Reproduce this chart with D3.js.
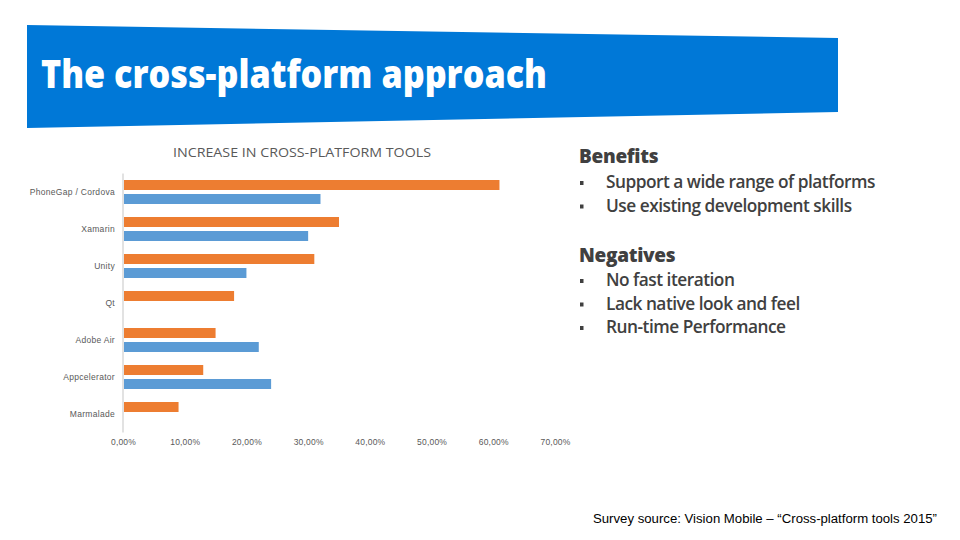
<!DOCTYPE html>
<html>
<head>
<meta charset="utf-8">
<script src="https://cdn.jsdelivr.net/npm/d3@7"></script>
<style>
  html, body { margin: 0; padding: 0; background: #fff; }
  svg { display: block; }
</style>
</head>
<body>
<svg id="chart" width="960" height="540"></svg>
<script>
// ---- Data ----
const categories = ["PhoneGap / Cordova", "Xamarin", "Unity", "Qt", "Adobe Air", "Appcelerator", "Marmalade"];
const seriesOrange = [61, 35, 31, 18, 15, 13, 9];        // upper bar of each pair
const seriesBlue   = [32, 30, 20, null, 22, 24, null];   // lower bar of each pair
const tickValues   = [0, 10, 20, 30, 40, 50, 60, 70];
const chartTitle   = "INCREASE IN CROSS-PLATFORM TOOLS";
const slideTitle   = "The cross-platform approach";
const benefits     = ["Support a wide range of platforms", "Use existing development skills"];
const negatives    = ["No fast iteration", "Lack native look and feel", "Run-time Performance"];
const sourceText   = "Survey source: Vision Mobile \u2013 \u201cCross-platform tools 2015\u201d";

const svg = d3.select("#chart");

// ---- Title banner ----
svg.append("path")
  .attr("d", "M27,25 L838,38 L838,112 L27,128 Z")
  .attr("fill", "#0078D7");
svg.append("text")
  .attr("x", 41).attr("y", 88)
  .attr("fill", "#fff")
  .attr("font-family", "'Open Sans', 'Noto Sans', sans-serif")
  .attr("font-weight", 800)
  .attr("font-size", 39)
  .attr("textLength", 506).attr("lengthAdjust", "spacingAndGlyphs")
  .text(slideTitle);

// ---- Chart ----
const x = d3.scaleLinear().domain([0, 70]).range([123, 555]);
const y = d3.scaleBand().domain(categories).range([173.5, 432.5]);

svg.append("text")
  .attr("x", 302).attr("y", 157)
  .attr("text-anchor", "middle")
  .attr("fill", "#595959")
  .attr("font-family", "'Open Sans', sans-serif")
  .attr("font-size", 12.5)
  .attr("textLength", 258).attr("lengthAdjust", "spacingAndGlyphs")
  .text(chartTitle);

const barH = 10;
const gOrange = svg.append("g");
gOrange.selectAll("rect").data(categories.map((c, i) => ({c, v: seriesOrange[i]})).filter(d => d.v != null))
  .join("rect")
  .attr("x", x(0) + 1)
  .attr("y", d => y(d.c) + y.bandwidth() / 2 - 12)
  .attr("width", d => x(d.v) - x(0) - 1)
  .attr("height", barH)
  .attr("fill", "#ED7D31");

const gBlue = svg.append("g");
gBlue.selectAll("rect").data(categories.map((c, i) => ({c, v: seriesBlue[i]})).filter(d => d.v != null))
  .join("rect")
  .attr("x", x(0) + 1)
  .attr("y", d => y(d.c) + y.bandwidth() / 2 + 2)
  .attr("width", d => x(d.v) - x(0) - 1)
  .attr("height", barH)
  .attr("fill", "#5B9BD5");

// vertical axis line
svg.append("line")
  .attr("x1", x(0)).attr("x2", x(0))
  .attr("y1", y.range()[0]).attr("y2", y.range()[1])
  .attr("stroke", "#D9D9D9").attr("stroke-width", 1.5);

// category labels
const yAxis = d3.axisLeft(y).tickSize(0).tickPadding(8);
const gy = svg.append("g").attr("transform", `translate(${x(0)},0)`).call(yAxis);
gy.select(".domain").remove();
gy.selectAll("text")
  .attr("fill", "#595959")
  .attr("font-family", "'Liberation Sans', sans-serif")
  .attr("font-size", 8.5)
  .attr("letter-spacing", 0.3);

// x tick labels
const xAxis = d3.axisBottom(x).tickValues(tickValues).tickSize(0).tickPadding(7)
  .tickFormat(d => d3.format(".2f")(d).replace(".", ",") + "%");
const gx = svg.append("g").attr("transform", `translate(0,${432})`).call(xAxis);
gx.select(".domain").remove();
gx.selectAll("text")
  .attr("fill", "#595959")
  .attr("font-family", "'Liberation Sans', sans-serif")
  .attr("font-size", 8.5)
  .attr("letter-spacing", 0.2);

// ---- Right text ----
const font2 = "'Open Sans', 'Noto Sans', sans-serif";
function heading(txt, yy) {
  svg.append("text").attr("x", 579).attr("y", yy)
    .attr("fill", "#404040").attr("font-family", font2).attr("font-weight", 800)
    .attr("font-size", 19).attr("letter-spacing", -0.3).text(txt);
}
function bullets(list, y0) {
  list.forEach((t, i) => {
    const yy = y0 + i * 23.5;
    svg.append("rect").attr("x", 580).attr("y", yy - 7).attr("width", 3.5).attr("height", 4).attr("fill", "#404040");
    svg.append("text").attr("x", 606).attr("y", yy)
      .attr("fill", "#404040").attr("font-family", font2).attr("font-weight", 600)
      .attr("font-size", 17.3).attr("letter-spacing", -0.5).text(t);
  });
}
heading("Benefits", 163);
bullets(benefits, 188);
heading("Negatives", 262);
bullets(negatives, 286);

// ---- Source ----
svg.append("text")
  .attr("x", 593).attr("y", 523)
  .attr("fill", "#000")
  .attr("font-family", "'Liberation Sans', sans-serif")
  .attr("font-size", 12.5)
  .attr("textLength", 344).attr("lengthAdjust", "spacingAndGlyphs")
  .text(sourceText);
</script>
</body>
</html>
